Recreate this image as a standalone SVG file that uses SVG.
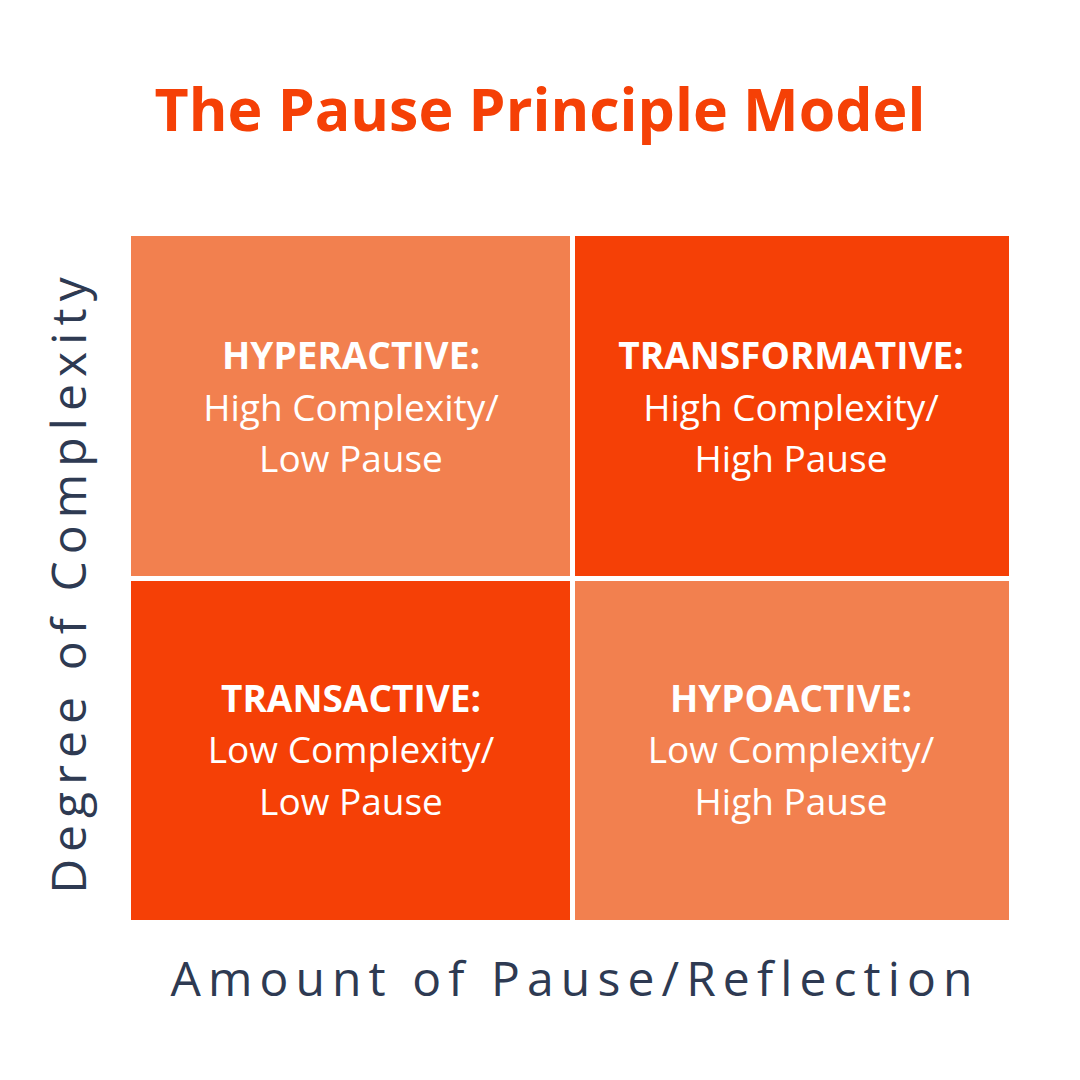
<svg xmlns="http://www.w3.org/2000/svg" width="1080" height="1080" viewBox="0 0 1080 1080">
<style>
.light{fill:#F2804F}
.dark{fill:#F54006}
.t{font-family:"Open Sans","Liberation Sans",sans-serif;fill:#ffffff;text-anchor:middle;font-size:37px}
.b{font-weight:bold}
.axis{font-family:"Open Sans","Liberation Sans",sans-serif;fill:#2E3A52;font-size:48px;letter-spacing:7.1px;text-anchor:middle}
</style>
<rect width="1080" height="1080" fill="#ffffff"/>
<text x="540" y="131" font-family="'Open Sans','Liberation Sans',sans-serif" font-weight="bold" font-size="59" fill="#F54006" text-anchor="middle">The Pause Principle Model</text>
<g id="hyperactive">
<rect class="light" x="131" y="236" width="439" height="340"/>
<text class="t b" x="351" y="369">HYPERACTIVE:</text>
<text class="t" x="351" y="421">High Complexity/</text>
<text class="t" x="351" y="472">Low Pause</text>
</g>
<g id="transformative">
<rect class="dark" x="575" y="236" width="434" height="340"/>
<text class="t b" x="791" y="369">TRANSFORMATIVE:</text>
<text class="t" x="791" y="421">High Complexity/</text>
<text class="t" x="791" y="472">High Pause</text>
</g>
<g id="transactive">
<rect class="dark" x="131" y="581" width="439" height="339"/>
<text class="t b" x="351" y="712">TRANSACTIVE:</text>
<text class="t" x="351" y="763">Low Complexity/</text>
<text class="t" x="351" y="815">Low Pause</text>
</g>
<g id="hypoactive">
<rect class="light" x="575" y="581" width="434" height="339"/>
<text class="t b" x="791" y="712">HYPOACTIVE:</text>
<text class="t" x="791" y="763">Low Complexity/</text>
<text class="t" x="791" y="815">High Pause</text>
</g>
<g id="connectors"></g>
<text class="axis" x="575" y="996">Amount of Pause/Reflection</text>
<text class="axis" transform="translate(86,582) rotate(-90)" x="0" y="0">Degree of Complexity</text>
</svg>
